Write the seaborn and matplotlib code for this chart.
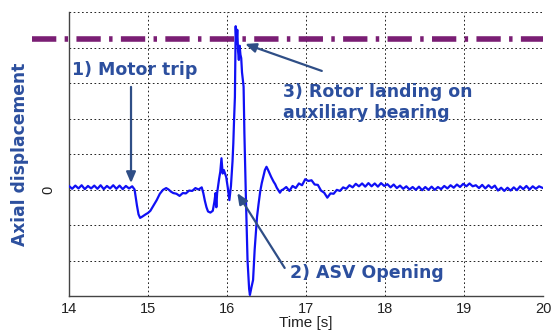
import matplotlib
matplotlib.use("Agg")
import matplotlib.pyplot as plt
import seaborn as sns
import pandas as pd

# ---------------- data ----------------
time_s = [
    14.00, 14.04, 14.08, 14.12, 14.16, 14.20, 14.24, 14.28, 14.32, 14.36,
    14.40, 14.44, 14.48, 14.52, 14.56, 14.60, 14.64, 14.68, 14.72, 14.76, 14.80,
    14.83, 14.86, 14.88, 14.90, 14.93, 14.97, 15.00, 15.03, 15.07, 15.11,
    15.15, 15.19, 15.23, 15.26, 15.29, 15.32, 15.36, 15.40, 15.44, 15.48,
    15.52, 15.56, 15.60, 15.64, 15.68, 15.70, 15.72, 15.74, 15.76, 15.79,
    15.82, 15.84, 15.855, 15.865, 15.875, 15.90, 15.915, 15.93, 15.945, 15.96,
    15.975, 15.99, 16.01, 16.03, 16.05, 16.07, 16.08, 16.09, 16.10, 16.105,
    16.11, 16.12, 16.13, 16.14, 16.15, 16.16, 16.17, 16.18, 16.19, 16.21,
    16.22, 16.24, 16.26, 16.28, 16.29, 16.31, 16.33, 16.35, 16.38, 16.40,
    16.42, 16.44, 16.46, 16.48, 16.50, 16.52, 16.54, 16.56, 16.59, 16.61,
    16.63, 16.65, 16.67, 16.69, 16.71,
    16.75, 16.79, 16.83, 16.87, 16.91, 16.95, 16.99, 17.03, 17.07, 17.11,
    17.15, 17.19, 17.23, 17.27, 17.31, 17.35, 17.39, 17.43, 17.47, 17.51,
    17.55, 17.59, 17.63, 17.67, 17.71, 17.75, 17.79, 17.83, 17.87, 17.91,
    17.95, 17.99, 18.03, 18.07, 18.11, 18.15, 18.19, 18.23, 18.27, 18.31,
    18.35, 18.39, 18.43, 18.47, 18.51, 18.55, 18.59, 18.63, 18.67, 18.71,
    18.75, 18.79, 18.83, 18.87, 18.91, 18.95, 18.99, 19.03, 19.07, 19.11,
    19.15, 19.19, 19.23, 19.27, 19.31, 19.35, 19.39, 19.43, 19.47, 19.51,
    19.55, 19.59, 19.63, 19.67, 19.71, 19.75, 19.79, 19.83, 19.87, 19.91,
    19.95, 20.00,
]
displacement = [
    0.10, 0.02, 0.11, 0.03, 0.12, 0.01, 0.10, 0.03, 0.11, 0.02,
    0.12, 0.01, 0.10, 0.03, 0.12, 0.02, 0.11, 0.01, 0.10, 0.03, 0.09,
    0.00, -0.45, -0.70, -0.80, -0.76, -0.70, -0.66, -0.60, -0.45, -0.30,
    -0.12, -0.01, 0.04, 0.00, -0.06, -0.10, -0.12, -0.18, -0.10, -0.11,
    -0.03, -0.04, 0.04, 0.00, 0.06, -0.10, -0.32, -0.50, -0.62, -0.65,
    -0.60, -0.35, -0.10, -0.50, -0.10, 0.30, 0.50, 0.88, 0.45, 0.55,
    0.45, 0.35, 0.05, -0.30, 0.10, 0.80, 1.30, 2.00, 2.60, 3.50,
    4.60, 4.10, 4.50, 3.90, 3.65, 4.05, 3.80, 3.70, 3.30, 2.90,
    1.60, -0.30, -2.00, -2.80, -2.97, -2.75, -2.55, -1.70, -0.77, -0.40,
    -0.06, 0.18, 0.36, 0.55, 0.64, 0.55, 0.45, 0.35, 0.22, 0.15,
    0.05, -0.02, -0.09, -0.02, 0.00,
    0.07, -0.04, 0.10, 0.04, 0.17, 0.12, 0.29, 0.24, 0.26, 0.14,
    0.13, -0.03, -0.09, -0.23, -0.11, -0.12, -0.01, -0.04, 0.06, 0.02,
    0.12, 0.06, 0.16, 0.09, 0.17, 0.08, 0.18, 0.09, 0.17, 0.08,
    0.18, 0.10, 0.15, 0.06, 0.14, 0.04, 0.11, 0.02, 0.09, 0.00,
    0.07, -0.01, 0.08, -0.02, 0.07, -0.01, 0.08, -0.01, 0.07, 0.01,
    0.10, 0.03, 0.12, 0.05, 0.14, 0.07, 0.16, 0.09, 0.17, 0.09,
    0.12, 0.04, 0.13, 0.03, 0.12, 0.04, 0.11, -0.03, 0.05, -0.04,
    0.05, -0.03, 0.06, -0.02, 0.09, 0.01, 0.10, 0.00, 0.09, 0.02,
    0.09, 0.04,
]
x_ticks = [14, 15, 16, 17, 18, 19, 20]
y_gridlines = [-3, -2, -1, 0, 1, 2, 3, 4, 5]
limit_level = 4.24

xlabel = "Time [s]"
ylabel = "Axial displacement"
note_trip = "1) Motor trip"
note_asv = "2) ASV Opening"
note_rotor = ["3) Rotor landing on", "auxiliary bearing"]

# ---------------- styling ----------------
sns.set_style("white")
plt.rcParams["font.family"] = ["DejaVu Sans"]
plt.rcParams["lines.scale_dashes"] = False

TXT = "#2C4F9E"
ARR = "#2F4E86"
PURPLE = "#7A1E74"

fig = plt.figure(figsize=(5.51, 3.31), dpi=100)
ax = fig.add_axes([69 / 551, 35 / 331, 474 / 551, 284 / 331])

df = pd.DataFrame({"t": time_s, "d": displacement})
sns.lineplot(data=df, x="t", y="d", ax=ax, color="#1010F5", lw=1.6,
             estimator=None, sort=False, zorder=3)

ax.set_xlim(14, 20)
ax.set_ylim(-3, 5)
ax.set_xticks(x_ticks)
ax.set_xticklabels([str(v) for v in x_ticks], fontsize=10.5, color="#222222",
                   family="Liberation Sans")
ax.set_yticks(y_gridlines)
ax.set_yticklabels(["0" if v == 0 else "" for v in y_gridlines], fontsize=10.5,
                   color="#222222", family="Liberation Sans", rotation=90,
                   va="center")

ax.tick_params(axis="x", direction="in", length=5, width=0.8, color="#444444", pad=4)
ax.tick_params(axis="y", direction="out", length=2.5, width=1.2, color="#A8B4CC", pad=7)

ax.grid(True, color="#222222", lw=0.7, linestyle=(0, (1.2, 1.8)))
for s in ["top", "right"]:
    ax.spines[s].set_visible(False)
for s in ["left", "bottom"]:
    ax.spines[s].set_color("#444444")
    ax.spines[s].set_linewidth(1.0)

ax.set_xlabel(xlabel, fontsize=11, color="#222222", family="Liberation Sans",
              labelpad=0)
ax.set_ylabel(ylabel, fontsize=12.3, color=TXT, fontweight="bold", labelpad=9)

# purple limit line, extending left outside the axes
ax.plot([13.53, 20.0], [limit_level, limit_level], color=PURPLE, lw=4,
        solid_capstyle="butt", dash_capstyle="butt",
        linestyle=(0, (17.5, 6.0, 2.5, 6.0)), clip_on=False, zorder=4)

# annotations
arrow_kw = dict(arrowstyle="-|>,head_length=0.65,head_width=0.28",
                color=ARR, lw=1.6, shrinkA=0, shrinkB=0)
ax.annotate("", xy=(14.785, 0.18), xytext=(14.785, 2.89), arrowprops=arrow_kw,
            zorder=5)
ax.annotate("", xy=(16.23, 4.10), xytext=(17.20, 3.34), arrowprops=arrow_kw,
            zorder=5)
ax.annotate("", xy=(16.13, -0.10), xytext=(16.73, -2.21), arrowprops=arrow_kw,
            zorder=5)

tkw = dict(color=TXT, fontsize=12.5, fontweight="bold", zorder=6)
ax.text(14.04, 3.37, note_trip, ha="left", va="center", **tkw)
ax.text(16.80, -2.50, note_asv, ha="left", va="baseline", **tkw)
ax.text(16.71, 2.61, note_rotor[0], ha="left", va="baseline", **tkw)
ax.text(16.71, 2.00, note_rotor[1], ha="left", va="baseline", **tkw)

fig.savefig("out.png", dpi=100)
